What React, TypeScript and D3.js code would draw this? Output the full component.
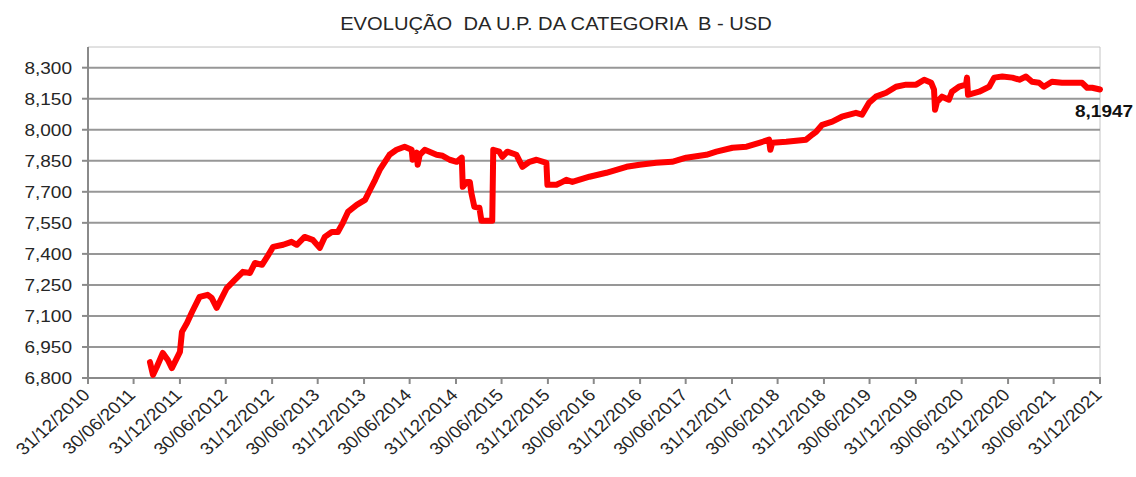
import { useEffect, useRef } from "react";
import * as d3 from "d3";

// chart values (unidade de participação, categoria B)
const dates = [
  "2011-09-03", "2011-09-15", "2011-09-30", "2011-10-24", "2011-11-13", "2011-11-29", "2011-12-31",
  "2012-01-08", "2012-01-28", "2012-02-17", "2012-03-18", "2012-04-19", "2012-05-05", "2012-05-25",
  "2012-06-14", "2012-07-04", "2012-08-05", "2012-09-06", "2012-10-04", "2012-10-24", "2012-11-21",
  "2012-12-11", "2013-01-04", "2013-02-13", "2013-03-18", "2013-04-08", "2013-05-09", "2013-06-10",
  "2013-07-08", "2013-07-28", "2013-08-25", "2013-09-18", "2013-10-08", "2013-10-28", "2013-12-02",
  "2014-01-04", "2014-01-24", "2014-02-13", "2014-03-03", "2014-04-11", "2014-05-09", "2014-06-10",
  "2014-07-08", "2014-07-12", "2014-07-28", "2014-08-01", "2014-08-09", "2014-08-29", "2014-10-15",
  "2014-11-08", "2014-12-06", "2015-01-03", "2015-01-23", "2015-01-27", "2015-02-12", "2015-02-24",
  "2015-03-02", "2015-03-14", "2015-04-03", "2015-04-11", "2015-05-24", "2015-05-28", "2015-06-21",
  "2015-07-03", "2015-07-23", "2015-08-28", "2015-09-21", "2015-10-19", "2015-11-16", "2015-12-25",
  "2015-12-29", "2016-01-14", "2016-02-03", "2016-02-27", "2016-03-13", "2016-04-06", "2016-06-13",
  "2016-08-19", "2016-11-07", "2016-12-29", "2017-03-05", "2017-05-07", "2017-07-02", "2017-09-20",
  "2017-10-30", "2018-01-02", "2018-02-27", "2018-04-18", "2018-05-27", "2018-06-01", "2018-06-09",
  "2018-08-03", "2018-10-21", "2018-11-14", "2018-11-30", "2018-12-24", "2019-02-02", "2019-03-12",
  "2019-05-07", "2019-05-31", "2019-06-28", "2019-07-25", "2019-09-04", "2019-10-13", "2019-11-22",
  "2020-01-01", "2020-02-02", "2020-03-01", "2020-03-12", "2020-03-16", "2020-03-24", "2020-04-13",
  "2020-05-10", "2020-05-22", "2020-06-19", "2020-07-17", "2020-07-21", "2020-07-25", "2020-09-07",
  "2020-10-17", "2020-11-06", "2020-12-08", "2021-01-17", "2021-02-14", "2021-03-12", "2021-04-05",
  "2021-05-03", "2021-05-22", "2021-06-23", "2021-08-02", "2021-09-11", "2021-10-21", "2021-11-10",
  "2021-11-30", "2021-12-31",
];
const values = [
  6.877, 6.815, 6.853, 6.921, 6.887, 6.848, 6.926,
  7.023, 7.066, 7.119, 7.192, 7.202, 7.187, 7.139,
  7.187, 7.235, 7.274, 7.313, 7.308, 7.356, 7.347,
  7.385, 7.434, 7.444, 7.458, 7.444, 7.482, 7.468,
  7.429, 7.482, 7.506, 7.506, 7.55, 7.603, 7.637,
  7.661, 7.71, 7.758, 7.806, 7.879, 7.903, 7.918,
  7.903, 7.855, 7.889, 7.831, 7.879, 7.903, 7.879,
  7.874, 7.855, 7.845, 7.865, 7.724, 7.748, 7.748,
  7.695, 7.627, 7.623, 7.56, 7.56, 7.903, 7.894,
  7.869, 7.894, 7.879, 7.821, 7.845, 7.855, 7.84,
  7.734, 7.734, 7.734, 7.748, 7.758, 7.748, 7.773,
  7.792, 7.821, 7.831, 7.84, 7.845, 7.865, 7.879,
  7.894, 7.913, 7.918, 7.937, 7.952, 7.903, 7.937,
  7.942, 7.952, 7.976, 7.99, 8.024, 8.039, 8.063,
  8.082, 8.073, 8.131, 8.16, 8.179, 8.208, 8.218,
  8.218, 8.242, 8.227, 8.194, 8.097, 8.135, 8.16,
  8.145, 8.184, 8.208, 8.218, 8.252, 8.169, 8.184,
  8.208, 8.252, 8.257, 8.252, 8.242, 8.257, 8.232,
  8.227, 8.208, 8.232, 8.227, 8.227, 8.227, 8.203,
  8.203, 8.1947,
];
const yTicks = [6.8, 6.95, 7.1, 7.25, 7.4, 7.55, 7.7, 7.85, 8.0, 8.15, 8.3];
const xTickLabels = [
  "31/12/2010", "30/06/2011", "31/12/2011", "30/06/2012", "31/12/2012", "30/06/2013",
  "31/12/2013", "30/06/2014", "31/12/2014", "30/06/2015", "31/12/2015", "30/06/2016",
  "31/12/2016", "30/06/2017", "31/12/2017", "30/06/2018", "31/12/2018", "30/06/2019",
  "31/12/2019", "30/06/2020", "31/12/2020", "30/06/2021", "31/12/2021",
];
const title = "EVOLUÇÃO  DA U.P. DA CATEGORIA  B - USD";
const lastLabel = "8,1947";

const W = 1136;
const H = 477;
const margin = { top: 47, right: 36, bottom: 99, left: 88 };
const font = "'Liberation Sans', Arial, sans-serif";
const textColor = "#262626";
const sx = 1.12; // the source image is a bit wider than tall

export default function App() {
  const ref = useRef<SVGSVGElement>(null);

  useEffect(() => {
    const svg = d3.select(ref.current);
    svg.selectAll("*").remove();

    const parseData = d3.timeParse("%Y-%m-%d");
    const parseTick = d3.timeParse("%d/%m/%Y");
    const data = dates.map((d, i) => ({ date: parseData(d) as Date, value: values[i] }));
    const tickDates = xTickLabels.map((d) => parseTick(d) as Date);

    const left = margin.left;
    const right = W - margin.right;
    const top = margin.top;
    const bottom = H - margin.bottom;

    const x = d3
      .scaleTime()
      .domain([tickDates[0], tickDates[tickDates.length - 1]])
      .range([left, right]);
    const y = d3.scaleLinear().domain([6.8, 8.4]).range([bottom, top]);

    // plot area border (top + right)
    svg
      .append("path")
      .attr("d", `M${left},${top}H${right}V${bottom}`)
      .attr("fill", "none")
      .attr("stroke", "#c4c4c4")
      .attr("stroke-width", 1);

    // horizontal grid
    svg
      .append("g")
      .selectAll("line")
      .data(yTicks.slice(1))
      .enter()
      .append("line")
      .attr("x1", left)
      .attr("x2", right)
      .attr("y1", (d) => y(d))
      .attr("y2", (d) => y(d))
      .attr("stroke", "#979797")
      .attr("stroke-width", 2);

    // y axis
    const yAxis = svg.append("g");
    yAxis
      .append("line")
      .attr("x1", left)
      .attr("x2", left)
      .attr("y1", top)
      .attr("y2", bottom + 1)
      .attr("stroke", "#8a8a8a")
      .attr("stroke-width", 2);
    yAxis
      .selectAll(".ytick")
      .data(yTicks)
      .enter()
      .append("line")
      .attr("x1", left - 6)
      .attr("x2", left)
      .attr("y1", (d) => y(d))
      .attr("y2", (d) => y(d))
      .attr("stroke", "#8a8a8a")
      .attr("stroke-width", 2);
    yAxis
      .selectAll("text")
      .data(yTicks)
      .enter()
      .append("text")
      .attr("transform", (d) => `translate(${left - 16},${y(d)}) scale(${sx},1)`)
      .attr("text-anchor", "end")
      .attr("dy", "0.36em")
      .attr("font-family", font)
      .attr("font-size", 17)
      .attr("fill", textColor)
      .text((d) => d3.format(".3f")(d).replace(".", ","));

    // x axis
    const xAxis = svg.append("g");
    xAxis
      .append("line")
      .attr("x1", left - 1)
      .attr("x2", right + 1)
      .attr("y1", bottom)
      .attr("y2", bottom)
      .attr("stroke", "#8a8a8a")
      .attr("stroke-width", 2);
    xAxis
      .selectAll(".xtick")
      .data(tickDates)
      .enter()
      .append("line")
      .attr("x1", (d) => x(d))
      .attr("x2", (d) => x(d))
      .attr("y1", bottom)
      .attr("y2", bottom + 6)
      .attr("stroke", "#8a8a8a")
      .attr("stroke-width", 2);
    xAxis
      .selectAll("text")
      .data(tickDates)
      .enter()
      .append("text")
      .attr("transform", (d) => `translate(${x(d) + 3},${bottom + 18}) scale(${sx},1) rotate(-45)`)
      .attr("text-anchor", "end")
      .attr("font-family", font)
      .attr("font-size", 17)
      .attr("fill", textColor)
      .text((d, i) => xTickLabels[i]);

    // the series
    const line = d3
      .line<{ date: Date; value: number }>()
      .x((d) => x(d.date))
      .y((d) => y(d.value));
    svg
      .append("path")
      .datum(data)
      .attr("d", line)
      .attr("fill", "none")
      .attr("stroke", "#ff0000")
      .attr("stroke-width", 6)
      .attr("stroke-linejoin", "round")
      .attr("stroke-linecap", "round");

    // last value label
    const last = data[data.length - 1];
    svg
      .append("text")
      .attr("transform", `translate(${x(last.date) - 25},${y(last.value) + 28}) scale(${sx},1)`)
      .attr("font-family", font)
      .attr("font-size", 17)
      .attr("font-weight", "bold")
      .attr("fill", "#111")
      .text(lastLabel);

    // title
    svg
      .append("text")
      .attr("transform", `translate(556,30) scale(${sx},1)`)
      .attr("text-anchor", "middle")
      .attr("font-family", font)
      .attr("font-size", 18)
      .attr("fill", textColor)
      .style("white-space", "pre")
      .text(title);
  }, []);

  return (
    <svg
      ref={ref}
      width={W}
      height={H}
      style={{ position: "absolute", left: 0, top: 0, background: "#fff" }}
    />
  );
}
